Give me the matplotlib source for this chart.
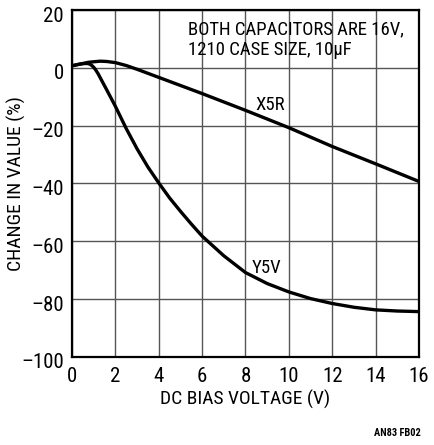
import matplotlib
matplotlib.use("Agg")
import matplotlib.pyplot as plt
import matplotlib.transforms as mtransforms
from matplotlib import font_manager
from matplotlib.patches import Rectangle

# ---- data ----
x5r_v = [0, 0.25, 0.5, 0.75, 1.0, 1.3, 1.6, 2.0, 2.5, 3.0, 3.5, 4.0, 5.0, 6.0, 7.0, 8.0, 10.0, 12.0, 14.0, 16.0]
x5r_pct = [0.7, 1.1, 1.5, 1.9, 2.1, 2.3, 2.2, 1.8, 0.8, -0.5, -1.9, -3.3, -6.1, -8.9, -11.8, -14.7, -20.7, -27.2, -33.2, -39.3]

y5v_v = [0, 0.3, 0.5, 0.7, 0.8, 0.9, 1.0, 1.1, 1.2, 1.4, 1.6, 2.0, 2.5, 3.0, 3.5, 4.0, 4.5, 5.0, 5.5, 6.0, 7.0, 8.0, 9.0, 10.0, 11.0, 12.0, 13.0, 14.0, 15.0, 16.0]
y5v_pct = [0.7, 1.2, 1.45, 1.5, 1.35, 0.9, 0.2, -0.8, -2.0, -4.8, -7.6, -13.3, -21.0, -28.0, -34.3, -39.8, -45.0, -49.6, -54.0, -58.2, -65.0, -70.8, -74.6, -77.5, -79.8, -81.5, -82.8, -83.7, -84.1, -84.3]

x_ticks = [0, 2, 4, 6, 8, 10, 12, 14, 16]
y_ticks = [-100, -80, -60, -40, -20, 0, 20]
y_tick_labels = ["\u2013100", "\u201380", "\u201360", "\u201340", "\u201320", "0", "20"]

# ---- font: prefer a narrow sans ----
fonts = font_manager.fontManager.ttflist
names = {f.name for f in fonts}
stretch = "normal"
scale = 1.0
if "Liberation Sans Narrow" in names:
    fam = ["Liberation Sans Narrow", "DejaVu Sans"]
elif "Roboto Condensed" in names:
    fam = ["Roboto Condensed", "DejaVu Sans"]
elif any(f.name == "DejaVu Sans" and str(f.stretch) in ("condensed", "semi-condensed", "75", "87.5")
         or "Condensed" in f.fname and "DejaVuSans" in f.fname for f in fonts):
    fam = ["DejaVu Sans"]
    stretch = "condensed"
    scale = 0.95
else:
    fam = ["Liberation Sans", "DejaVu Sans"]
    scale = 0.88
plt.rcParams["font.family"] = fam
plt.rcParams["font.stretch"] = stretch

fig = plt.figure(figsize=(4.35, 4.45), dpi=100)
ax = fig.add_axes([72/435, 1 - 357/445, (419-72)/435, (357-10)/445])

ax.plot(x5r_v, x5r_pct, color="black", lw=2.4, solid_capstyle="butt", zorder=3)
ax.plot(y5v_v, y5v_pct, color="black", lw=2.4, solid_capstyle="butt", zorder=3)

ax.set_xlim(0, 16)
ax.set_ylim(-100, 20)
ax.set_xticks(x_ticks)
ax.set_yticks(y_ticks)
ax.set_yticklabels(y_tick_labels)
ax.grid(True, color="#555555", lw=1.0)
ax.tick_params(length=0, labelsize=15 * scale, pad=6, colors="black")
ax.tick_params(axis="x", pad=7)
for s in ax.spines.values():
    s.set_linewidth(1.6)
    s.set_color("black")
    s.set_zorder(4)

off = mtransforms.ScaledTranslation(0, -4/100, fig.dpi_scale_trans)
for lab in ax.get_yticklabels():
    lab.set_transform(lab.get_transform() + off)

ax.set_xlabel("DC BIAS VOLTAGE (V)", fontsize=14 * scale)
ax.set_ylabel("CHANGE IN VALUE (%)", fontsize=14 * scale)
ax.xaxis.set_label_coords(0.4986, -(390 - 357) / 347)
ax.yaxis.set_label_coords((26 - 72) / 347, 0.5)

# white panel behind the note (hides the grid there, as in the reference)
ax.add_patch(Rectangle((5.1, 0.5), 10.9, 18.6, facecolor="white", edgecolor="none", zorder=1))
ax.text(5.35, 16.3, "BOTH CAPACITORS ARE 16V,\n1210 CASE SIZE, 10\u03bcF", fontsize=13.5 * scale,
        ha="left", va="top", linespacing=1.15, zorder=2)
ax.text(9.12, -12.8, "X5R", fontsize=13.5 * scale, ha="center", va="center")
ax.text(8.97, -69.1, "Y5V", fontsize=13.5 * scale, ha="center", va="center")

fig.text(397/435, 1 - 433/445, "AN83 FB02", fontsize=7.5 * scale, ha="center", va="center", fontweight="bold")

fig.savefig("out.png", dpi=100, facecolor="white")
